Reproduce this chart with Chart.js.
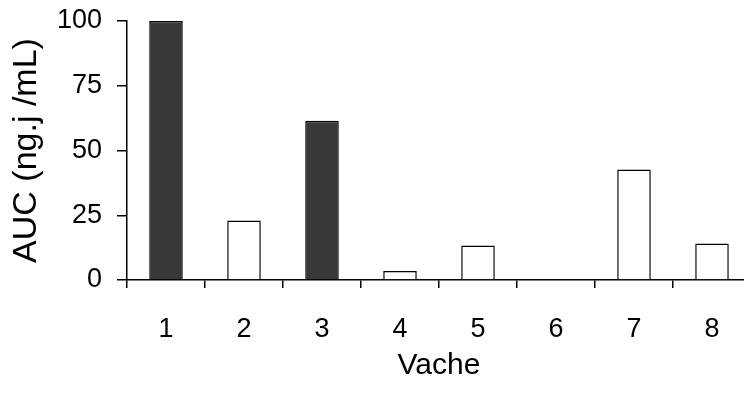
<!DOCTYPE html>
<html>
<head>
<meta charset="utf-8">
<script src="https://cdn.jsdelivr.net/npm/chart.js@4/dist/chart.umd.min.js"></script>
<style>
  html, body { margin: 0; padding: 0; background: #fff; overflow: hidden; }
  canvas { display: block; }
</style>
</head>
<body>
<canvas id="myChart" width="760" height="396"></canvas>
<script>
// cows and AUC values
var cows = ["1", "2", "3", "4", "5", "6", "7", "8"];
var auc = [100, 23, 61.5, 3.5, 13.3, 0, 42.7, 14.1];
var dark = [true, false, true, false, false, false, false, false];
var yTicks = [0, 25, 50, 75, 100];

var fills = dark.map(function (d) { return d ? "#383838" : "#ffffff"; });

var ctx = document.getElementById("myChart").getContext('2d');
var myChart = new Chart(ctx, {
  type: 'bar',
  data: {
    labels: cows,
    datasets: [{
      data: auc,
      backgroundColor: fills,
      borderColor: "#000",
      borderWidth: 1.5,
      borderSkipped: 'bottom',
      categoryPercentage: 1,
      barPercentage: 0.43
    }]
  },
  options: {
    responsive: false,
    animation: false,
    layout: { padding: { top: 21, right: 9, left: 0, bottom: 0 } },
    plugins: { legend: { display: false }, tooltip: { enabled: false } },
    scales: {
      x: {
        afterFit: function (s) { s.height = 116; },
        border: { display: true, color: "#000", width: 1.5 },
        grid: { display: true, drawOnChartArea: false, drawTicks: true, tickLength: 8, color: "#000", lineWidth: 1.5, offset: true },
        ticks: { color: "#000", padding: 25, font: { family: "Liberation Sans", size: 27 } },
        title: { display: true, text: "Vache", color: "#000", padding: { top: 0, bottom: 12 }, font: { family: "Liberation Sans", size: 30 } }
      },
      y: {
        min: 0,
        max: 100,
        afterFit: function (s) { s.width = 127; s.paddingTop = 0; s.paddingBottom = 0; },
        afterBuildTicks: function (s) { s.ticks = yTicks.map(function (v) { return { value: v }; }); },
        border: { display: true, color: "#000", width: 1.5 },
        grid: { display: true, drawOnChartArea: false, drawTicks: true, tickLength: 10, color: "#000", lineWidth: 1.5 },
        ticks: { color: "#000", padding: 15, font: { family: "Liberation Sans", size: 27 } },
        title: { display: true, text: "AUC (ng.j /mL)", color: "#000", padding: { top: 6, bottom: 0 }, font: { family: "Liberation Sans", size: 34 } }
      }
    }
  }
});
</script>
</body>
</html>
